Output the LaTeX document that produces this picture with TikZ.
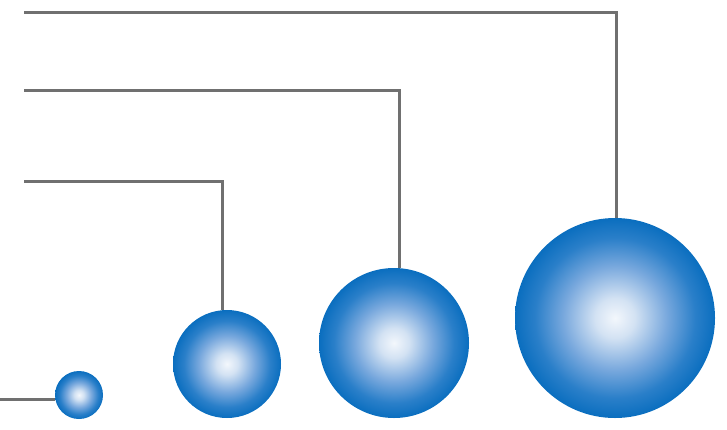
\documentclass[tikz,border=0pt]{standalone}
\definecolor{wiregray}{HTML}{707070}
\definecolor{sphA}{HTML}{F3F7FC}
\definecolor{sphB}{HTML}{D3E2F3}
\definecolor{sphC}{HTML}{78A8DD}
\definecolor{sphD}{HTML}{2A7FC9}
\definecolor{sphE}{HTML}{0A6EBF}
\pgfdeclareradialshading{sphere}{\pgfpoint{0bp}{0bp}}{color(0bp)=(sphA); color(5bp)=(sphB); color(13bp)=(sphC); color(20bp)=(sphD); color(25bp)=(sphE); color(50bp)=(sphE)}
\tikzset{
  ball/.style={circle, inner sep=0pt, draw=none, shading=sphere},
  wire/.style={draw=wiregray, line width=3pt, line join=miter}
}
\begin{document}
\begin{tikzpicture}[x=1pt,y=-1pt]
\useasboundingbox (0,0) rectangle (727,429);
\node[ball, minimum size=48pt] (s1) at (79,395) {};
\node[ball, minimum size=108pt] (s2) at (227,364) {};
\node[ball, minimum size=150pt] (s3) at (394,343) {};
\node[ball, minimum size=200pt] (s4) at (615,318) {};
\coordinate (a4) at (24,12);
\coordinate (a3) at (24,90.5);
\coordinate (a2) at (24,181);
\coordinate (a1) at (0,399);
\draw[wire] (a4) -| ([xshift=1pt]s4.north);
\draw[wire] (a3) -| ([xshift=5pt]s3.north);
\draw[wire] (a2) -| ([xshift=-5pt]s2.north);
\draw[wire] (a1) -- (a1 -| s1.west);
\end{tikzpicture}
\end{document}
